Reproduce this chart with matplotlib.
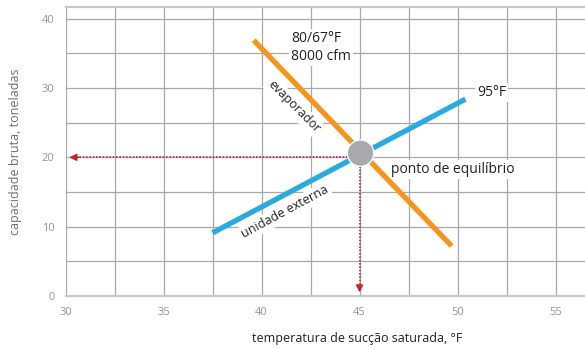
import matplotlib.pyplot as plt
from matplotlib.patches import Ellipse

# valores
evap_x = [39.6, 49.7]
evap_y = [36.9, 7.2]
cond_x = [37.5, 50.4]
cond_y = [9.1, 28.4]
equilibrio = (45.05, 20.6)
x_ticks = [30, 35, 40, 45, 50, 55]
y_ticks = [0, 10, 20, 30, 40]

LARANJA = "#f7941d"
AZUL = "#29abe2"
VERMELHO = "#c1272d"
CINZA = "#a7a9ac"
TEXTO = "#231f20"

plt.rcParams["font.family"] = ["Open Sans", "DejaVu Sans"]

fig = plt.figure(figsize=(5.85, 3.49), dpi=100)
ax = fig.add_axes([0.112, 0.152, 0.888, 0.828])
ax.set_xlim(30, 56.5)
ax.set_ylim(0, 41.7)

xs = [30 + 2.5 * i for i in range(11)]
ys = [5 * i for i in range(9)]
ax.set_xticks(xs)
ax.set_xticklabels([f"{v:.0f}" if v in x_ticks else "" for v in xs])
ax.set_yticks(ys)
ax.set_yticklabels([str(v) if v in y_ticks else "" for v in ys])
ax.tick_params(length=0, labelsize=8, colors="#939598", pad=8)
ax.grid(True, color="#a8a8a8", linewidth=0.9)
for sp in ax.spines.values():
    sp.set_color("#c8c8c8")
    sp.set_linewidth(1.6)
ax.spines["right"].set_visible(False)
ax.spines["left"].set_visible(False)

# linhas pontilhadas até os eixos
ax.plot([equilibrio[0], 30.6], [20.0, 20.0], ls=(0, (1, 1)), color=VERMELHO, lw=1.2, zorder=3)
ax.plot([45.0, 45.0], [equilibrio[1], 0.9], ls=(0, (1, 1)), color=VERMELHO, lw=1.2, zorder=3)
ax.annotate("", xy=(30.05, 20.0), xytext=(30.8, 20.0),
            arrowprops=dict(arrowstyle="-|>", color=VERMELHO, lw=1.2, mutation_scale=10), zorder=3)
ax.annotate("", xy=(45.0, 0.1), xytext=(45.0, 1.5),
            arrowprops=dict(arrowstyle="-|>", color=VERMELHO, lw=1.2, mutation_scale=10), zorder=3)

ax.plot(evap_x, evap_y, color=LARANJA, lw=3.8, solid_capstyle="butt", zorder=4)
ax.plot(cond_x, cond_y, color=AZUL, lw=3.8, solid_capstyle="butt", zorder=4)
ax.add_patch(Ellipse(equilibrio, width=1.35, height=3.8, facecolor=CINZA,
                     edgecolor="white", lw=1.0, zorder=5))

caixa = dict(facecolor="white", edgecolor="none", pad=1.5)
ax.text(41.5, 35.8, "80/67°F\n8000 cfm", fontsize=10, color=TEXTO, ha="left", va="center",
        linespacing=1.25, bbox=caixa, zorder=3)
ax.text(51.0, 29.3, "95°F", fontsize=10, color=TEXTO, ha="left", va="center", bbox=caixa, zorder=3)
ax.text(46.6, 18.2, "ponto de equilíbrio", fontsize=10, color=TEXTO, ha="left", va="center",
        bbox=caixa, zorder=3)
ax.text(41.65, 27.3, "evaporador", fontsize=9, color=TEXTO, ha="center", va="center",
        rotation=-45, rotation_mode="anchor", bbox=caixa, zorder=3)
ax.text(41.2, 12.1, "unidade externa", fontsize=9, color=TEXTO, ha="center", va="center",
        rotation=28.5, rotation_mode="anchor", bbox=caixa, zorder=3)

fig.text(0.026, 0.565, "capacidade bruta, toneladas", fontsize=9, color="#6d6e71",
         rotation=90, ha="center", va="center")
fig.text(0.61, 0.03, "temperatura de sucção saturada, °F", fontsize=9, color=TEXTO,
         ha="center", va="center")

fig.savefig("out.png", dpi=100)
